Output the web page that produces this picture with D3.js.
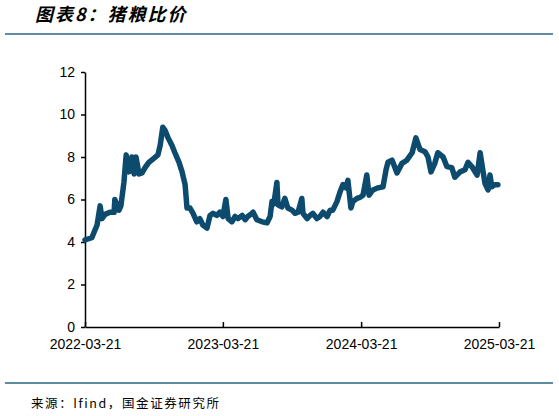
<!DOCTYPE html>
<html>
<head>
<meta charset="utf-8">
<script src="https://cdn.jsdelivr.net/npm/d3@7"></script>
<style>
  body { margin: 0; background: #fff; }
  text { font-family: "Liberation Sans", Arial, sans-serif; }
  .title { font-family: "Noto Sans CJK SC", sans-serif; font-size: 18px; font-weight: bold; font-style: italic; letter-spacing: 2px; }
  .source { font-family: "Noto Sans CJK SC", sans-serif; font-size: 12.5px; letter-spacing: 1.6px; }
  .axis text { font-size: 14px; fill: #000; }
  .axis path, .axis line { stroke: #000; stroke-width: 1.5; }
</style>
</head>
<body>
<script>
// 猪粮比价, approximate readings
const dates = [
  '2022-03-21','2022-04-08','2022-04-22','2022-04-30','2022-05-05','2022-05-13','2022-05-26','2022-06-06','2022-06-08','2022-06-19',
  '2022-06-24','2022-07-02','2022-07-08','2022-07-15','2022-07-23','2022-07-29','2022-08-03','2022-08-11','2022-08-19','2022-08-27',
  '2022-09-06','2022-09-20','2022-09-30','2022-10-06','2022-10-13','2022-10-19','2022-10-27','2022-11-06','2022-11-14','2022-11-25',
  '2022-12-03','2022-12-11','2022-12-16','2022-12-24','2023-01-01','2023-01-11','2023-01-19','2023-01-27','2023-02-07','2023-02-15',
  '2023-02-23','2023-03-05','2023-03-13','2023-03-21','2023-03-29','2023-04-04','2023-04-14','2023-04-22','2023-04-30','2023-05-11',
  '2023-05-19','2023-05-26','2023-06-06','2023-06-09','2023-06-19','2023-07-03','2023-07-16','2023-07-24','2023-07-29','2023-08-03',
  '2023-08-11','2023-08-14','2023-08-24','2023-09-01','2023-09-09','2023-09-20','2023-09-28','2023-10-06','2023-10-16','2023-10-19',
  '2023-10-30','2023-11-07','2023-11-14','2023-11-25','2023-12-03','2023-12-11','2023-12-22','2023-12-30','2024-01-06','2024-01-17',
  '2024-01-25','2024-02-02','2024-02-10','2024-02-15','2024-02-23','2024-02-28','2024-03-10','2024-03-18','2024-03-26','2024-04-05',
  '2024-04-11','2024-04-21','2024-05-05','2024-05-18','2024-05-26','2024-05-31','2024-06-11','2024-06-24','2024-07-07','2024-07-20',
  '2024-08-03','2024-08-13','2024-08-24','2024-09-06','2024-09-14','2024-09-22','2024-10-02','2024-10-10','2024-10-24','2024-11-03',
  '2024-11-16','2024-11-24','2024-12-08','2024-12-21','2024-12-29','2025-01-08','2025-01-22','2025-01-30','2025-02-06','2025-02-12',
  '2025-02-20','2025-02-25','2025-03-02','2025-03-10','2025-03-18'
];
const ratio = [
  4.1, 4.2, 4.8, 5.7, 5.1, 5.3, 5.4, 5.4, 6.0, 5.5,
  5.7, 6.8, 8.1, 7.3, 8.0, 7.2, 8.0, 7.2, 7.25, 7.5,
  7.75, 7.95, 8.1, 8.55, 9.4, 9.25, 8.9, 8.55, 8.2, 7.75,
  7.3, 6.7, 5.6, 5.6, 5.35, 4.95, 5.1, 4.8, 4.65, 5.25,
  5.35, 5.25, 5.4, 5.2, 6.0, 5.1, 4.95, 5.2, 5.1, 5.25,
  5.05, 5.2, 5.35, 5.4, 5.05, 4.95, 4.9, 5.2, 5.9, 5.8,
  6.8, 5.75, 5.65, 6.05, 5.6, 5.5, 5.35, 5.4, 6.05, 5.35,
  5.1, 5.25, 5.35, 5.1, 5.2, 5.4, 5.2, 5.5, 5.5, 5.9,
  6.35, 6.7, 6.55, 6.9, 5.6, 5.9, 6.05, 6.1, 6.2, 7.15,
  6.2, 6.45, 6.55, 6.6, 7.4, 7.75, 7.85, 7.25, 7.7, 7.85,
  8.2, 8.9, 8.35, 8.25, 8.0, 7.3, 7.7, 8.2, 8.0, 7.55,
  7.5, 7.05, 7.3, 7.4, 7.75, 7.55, 7.15, 8.2, 7.4, 6.75,
  6.45, 7.15, 6.6, 6.7, 6.7
];
const xTicks = ['2022-03-21', '2023-03-21', '2024-03-21', '2025-03-21'];
const yTicks = [0, 2, 4, 6, 8, 10, 12];

const width = 559, height = 416;
const parse = d3.timeParse('%Y-%m-%d');
const fmt = d3.timeFormat('%Y-%m-%d');
const data = dates.map((d, i) => ({ date: parse(d), value: ratio[i] }));

const svg = d3.select('body').append('svg')
  .attr('width', width)
  .attr('height', height);

svg.append('text')
  .attr('class', 'title')
  .attr('x', 35)
  .attr('y', 21)
  .text('图表8：猪粮比价');

svg.append('line')
  .attr('x1', 5).attr('x2', 553)
  .attr('y1', 34).attr('y2', 34)
  .attr('stroke', '#2a6585').attr('stroke-width', 1.5);

svg.append('line')
  .attr('x1', 5).attr('x2', 553)
  .attr('y1', 383).attr('y2', 383)
  .attr('stroke', '#2a6585').attr('stroke-width', 1.5);

svg.append('text')
  .attr('class', 'source')
  .attr('x', 31)
  .attr('y', 408)
  .text('来源：Ifind，国金证券研究所');

const xScale = d3.scaleTime()
  .domain([parse(xTicks[0]), parse(xTicks[3])])
  .range([85, 499]);

const yScale = d3.scaleLinear()
  .domain([0, 12])
  .range([327, 72]);

const xAxis = d3.axisBottom(xScale)
  .tickValues(xTicks.map(parse))
  .tickFormat(fmt)
  .tickSizeInner(-5)
  .tickSizeOuter(0)
  .tickPadding(12);

const yAxis = d3.axisLeft(yScale)
  .tickValues(yTicks)
  .tickSizeInner(4)
  .tickSizeOuter(0)
  .tickPadding(6);

svg.append('g')
  .attr('class', 'axis')
  .attr('transform', 'translate(0,' + 327 + ')')
  .call(xAxis);

svg.append('g')
  .attr('class', 'axis')
  .attr('transform', 'translate(' + 85 + ',0)')
  .call(yAxis);

const line = d3.line()
  .x((d) => xScale(d.date))
  .y((d) => yScale(d.value));

svg.append('path')
  .datum(data)
  .attr('fill', 'none')
  .attr('stroke', '#0c4a6e')
  .attr('stroke-width', 5.5)
  .attr('stroke-linejoin', 'round')
  .attr('stroke-linecap', 'round')
  .attr('d', line);
</script>
</body>
</html>
